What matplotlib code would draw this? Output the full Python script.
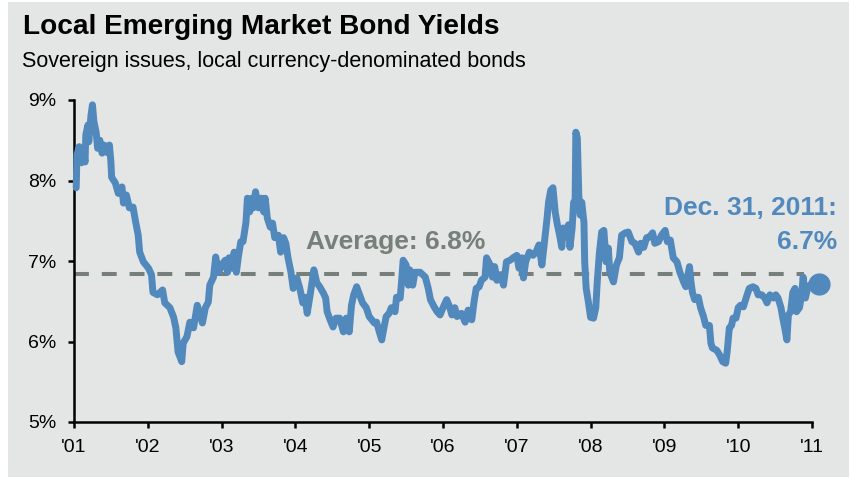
import matplotlib
matplotlib.use("Agg")
import matplotlib.pyplot as plt
from matplotlib.patches import Rectangle

# weekly-ish local EM sovereign yields, decimal year vs. percent
years = [2001.03, 2001.04, 2001.07, 2001.10, 2001.12, 2001.15, 2001.16, 2001.19, 2001.20, 2001.23,
         2001.25, 2001.27, 2001.30, 2001.32, 2001.35, 2001.38, 2001.41, 2001.44, 2001.48, 2001.50,
         2001.51, 2001.56, 2001.60, 2001.65, 2001.67, 2001.71, 2001.75, 2001.80, 2001.83, 2001.87,
         2001.89, 2001.94, 2002.01, 2002.05, 2002.07, 2002.13, 2002.20, 2002.23, 2002.30, 2002.35,
         2002.38, 2002.41, 2002.46, 2002.48, 2002.53, 2002.57, 2002.62, 2002.67, 2002.71, 2002.74,
         2002.78, 2002.82, 2002.84, 2002.89, 2002.92, 2002.96, 2003.00, 2003.05, 2003.08, 2003.10,
         2003.14, 2003.17, 2003.20, 2003.23, 2003.26, 2003.29, 2003.33, 2003.35, 2003.38, 2003.41,
         2003.43, 2003.46, 2003.50, 2003.54, 2003.57, 2003.59, 2003.62, 2003.66, 2003.69, 2003.72,
         2003.77, 2003.80, 2003.84, 2003.87, 2003.90, 2003.94, 2003.97, 2004.02, 2004.06, 2004.10,
         2004.13, 2004.16, 2004.20, 2004.25, 2004.29, 2004.33, 2004.38, 2004.41, 2004.43, 2004.47,
         2004.51, 2004.55, 2004.60, 2004.65, 2004.69, 2004.73, 2004.76, 2004.79, 2004.83, 2004.87,
         2004.91, 2004.96, 2005.00, 2005.07, 2005.10, 2005.14, 2005.17, 2005.20, 2005.23, 2005.27,
         2005.30, 2005.35, 2005.37, 2005.42, 2005.44, 2005.46, 2005.50, 2005.53, 2005.55, 2005.59,
         2005.62, 2005.69, 2005.76, 2005.80, 2005.83, 2005.88, 2005.92, 2005.96, 2006.00, 2006.05,
         2006.09, 2006.12, 2006.16, 2006.19, 2006.25, 2006.30, 2006.34, 2006.39, 2006.42, 2006.45,
         2006.49, 2006.52, 2006.57, 2006.59, 2006.64, 2006.67, 2006.70, 2006.73, 2006.78, 2006.82,
         2006.86, 2006.91, 2006.95, 2007.00, 2007.03, 2007.07, 2007.09, 2007.12, 2007.17, 2007.22,
         2007.26, 2007.30, 2007.34, 2007.37, 2007.41, 2007.43, 2007.46, 2007.49, 2007.52, 2007.55,
         2007.58, 2007.61, 2007.63, 2007.67, 2007.70, 2007.72, 2007.75, 2007.77, 2007.79, 2007.80,
         2007.82, 2007.84, 2007.86, 2007.88, 2007.91, 2007.92, 2007.94, 2007.97, 2008.00, 2008.04,
         2008.07, 2008.09, 2008.12, 2008.15, 2008.18, 2008.21, 2008.24, 2008.26, 2008.31, 2008.35,
         2008.39, 2008.42, 2008.47, 2008.51, 2008.56, 2008.60, 2008.65, 2008.68, 2008.72, 2008.76,
         2008.80, 2008.84, 2008.87, 2008.92, 2008.96, 2009.01, 2009.04, 2009.08, 2009.12, 2009.17,
         2009.21, 2009.26, 2009.29, 2009.34, 2009.36, 2009.38, 2009.41, 2009.46, 2009.49, 2009.53,
         2009.56, 2009.61, 2009.63, 2009.65, 2009.71, 2009.75, 2009.79, 2009.83, 2009.85, 2009.88,
         2009.91, 2009.93, 2009.97, 2010.00, 2010.03, 2010.07, 2010.11, 2010.15, 2010.20, 2010.24,
         2010.27, 2010.32, 2010.36, 2010.39, 2010.43, 2010.48, 2010.51, 2010.54, 2010.58, 2010.60,
         2010.63, 2010.66, 2010.68, 2010.71, 2010.74, 2010.77, 2010.79, 2010.83, 2010.86, 2010.88,
         2010.91, 2010.94, 2010.97, 2011.02, 2011.09]
yields = [7.91, 8.32, 8.42, 8.22, 8.40, 8.23, 8.57, 8.69, 8.48, 8.81,
          8.94, 8.73, 8.60, 8.40, 8.50, 8.34, 8.44, 8.35, 8.44, 8.23,
          8.04, 7.97, 7.84, 7.92, 7.72, 7.82, 7.66, 7.67, 7.51, 7.32,
          7.11, 6.99, 6.91, 6.83, 6.61, 6.58, 6.64, 6.48, 6.42, 6.30,
          6.17, 5.87, 5.75, 5.98, 6.06, 6.24, 6.17, 6.45, 6.33, 6.23,
          6.42, 6.49, 6.70, 6.80, 7.05, 6.86, 6.95, 7.01, 6.86, 7.04,
          6.91, 7.11, 6.86, 7.07, 7.24, 7.24, 7.48, 7.78, 7.61, 7.78,
          7.66, 7.86, 7.66, 7.78, 7.61, 7.78, 7.53, 7.42, 7.47, 7.29,
          7.32, 7.11, 7.29, 7.22, 7.04, 6.86, 6.66, 6.79, 6.66, 6.48,
          6.55, 6.35, 6.58, 6.89, 6.73, 6.68, 6.60, 6.54, 6.37, 6.27,
          6.18, 6.29, 6.29, 6.12, 6.29, 6.12, 6.45, 6.58, 6.68, 6.58,
          6.48, 6.42, 6.31, 6.23, 6.24, 6.11, 6.02, 6.17, 6.31, 6.35,
          6.42, 6.37, 6.55, 6.54, 6.76, 7.01, 6.95, 6.70, 6.89, 6.70,
          6.86, 6.86, 6.80, 6.66, 6.52, 6.43, 6.37, 6.33, 6.42, 6.52,
          6.43, 6.33, 6.42, 6.31, 6.35, 6.24, 6.39, 6.27, 6.49, 6.66,
          6.68, 6.76, 6.80, 7.04, 6.95, 6.80, 6.93, 6.76, 6.83, 6.70,
          6.99, 7.01, 7.04, 7.07, 6.91, 7.04, 6.79, 6.99, 7.11, 7.07,
          7.11, 7.20, 6.95, 7.20, 7.53, 7.73, 7.88, 7.91, 7.61, 7.45,
          7.32, 7.17, 7.41, 7.35, 7.45, 7.17, 7.41, 7.73, 7.73, 8.60,
          8.53, 7.82, 7.57, 7.73, 7.48, 6.99, 6.66, 6.49, 6.30, 6.29,
          6.42, 6.74, 7.11, 7.36, 7.38, 6.99, 7.16, 6.86, 6.74, 6.95,
          7.04, 7.32, 7.35, 7.36, 7.24, 7.22, 7.11, 7.22, 7.17, 7.29,
          7.30, 7.35, 7.22, 7.24, 7.32, 7.38, 7.24, 7.26, 7.04, 6.99,
          6.86, 6.74, 6.68, 6.93, 6.74, 6.61, 6.52, 6.55, 6.42, 6.31,
          6.20, 6.20, 5.98, 5.92, 5.89, 5.83, 5.75, 5.73, 5.87, 6.17,
          6.20, 6.29, 6.29, 6.42, 6.45, 6.43, 6.55, 6.66, 6.68, 6.66,
          6.58, 6.58, 6.54, 6.48, 6.58, 6.54, 6.58, 6.54, 6.42, 6.31,
          6.17, 6.02, 6.33, 6.37, 6.61, 6.66, 6.37, 6.42, 6.58, 6.80,
          6.54, 6.66, 6.70, 6.73, 6.72]

average = 6.84
tick_years = list(range(2001, 2012))
tick_labels = ["'01", "'02", "'03", "'04", "'05", "'06", "'07", "'08", "'09", "'10", "'11"]
y_ticks = [5, 6, 7, 8, 9]

blue = "#5189bd"
grey = "#767f7a"
bg = "#e4e5e5"

plt.rcParams["font.family"] = ["Liberation Sans", "DejaVu Sans"]

fig = plt.figure(figsize=(8.5, 4.78), dpi=100, facecolor="white")
# grey panel behind everything, leaving a thin white margin
fig.patches.append(Rectangle((8 / 850, 1 / 478), 841 / 850, 475 / 478,
                             transform=fig.transFigure, facecolor=bg,
                             edgecolor="none", zorder=-10))

ax = fig.add_axes([74 / 850, 56 / 478, 738 / 850, 322 / 478])
ax.set_facecolor("none")
ax.set_zorder(1)

ax.plot([2001, years[-1] - 0.2], [average, average], color=grey, lw=2.9,
        ls=(0, (3.7, 3.2)), zorder=2)
ax.plot(years, yields, color=blue, lw=5.0, solid_joinstyle="round",
        solid_capstyle="round", zorder=3, clip_on=False)
ax.plot(years[-1], yields[-1], "o", color=blue, ms=15, zorder=4, clip_on=False)

ax.set_xlim(2001, 2011)
ax.set_ylim(5, 9)
ax.set_xticks(tick_years)
ax.set_xticklabels(tick_labels)
ax.set_yticks(y_ticks)
ax.set_yticklabels([f"{v}%" for v in y_ticks])

for s in ["top", "right"]:
    ax.spines[s].set_visible(False)
for s in ["left", "bottom"]:
    ax.spines[s].set_linewidth(1.8)
ax.tick_params(axis="both", direction="out", length=4.5, width=1.8,
               labelsize=14, colors="black", pad=8)

ax.text(2005.36, 7.24, f"Average: {average:.1f}%", color=grey, fontsize=19,
        fontweight="bold", ha="center", va="center")
ax.text(2011.34, 7.66, "Dec. 31, 2011:", color=blue, fontsize=19,
        fontweight="bold", ha="right", va="center")
ax.text(2011.34, 7.24, f"{yields[-1]:.1f}%", color=blue, fontsize=19,
        fontweight="bold", ha="right", va="center")

fig.text(23 / 850, 1 - 27 / 478, "Local Emerging Market Bond Yields",
         fontsize=20.2, fontweight="bold", va="center", ha="left")
fig.text(22 / 850, 1 - 61 / 478, "Sovereign issues, local currency-denominated bonds",
         fontsize=15.5, va="center", ha="left")

fig.savefig("out.png", dpi=100, facecolor="white")
